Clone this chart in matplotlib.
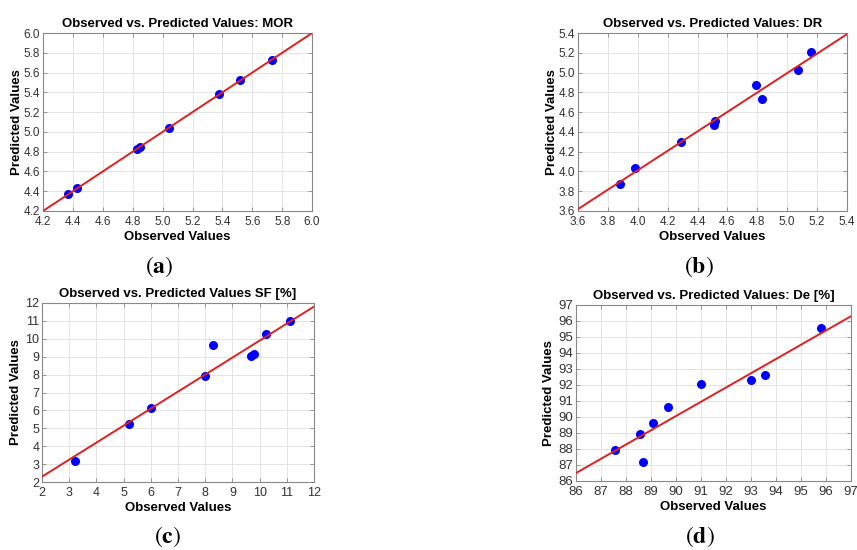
import matplotlib
matplotlib.use('Agg')
import matplotlib.pyplot as plt

plt.rcParams['font.family'] = ['Liberation Sans', 'DejaVu Sans']
plt.rcParams['mathtext.fontset'] = 'stix'

# observed / predicted values
mor_obs = [4.37, 4.43, 4.83, 4.85, 5.04, 5.38, 5.52, 5.73]
mor_pred = [4.37, 4.43, 4.83, 4.85, 5.04, 5.38, 5.52, 5.73]
mor_fit = (0.0, 1.0)

dr_obs = [3.88, 3.98, 4.29, 4.51, 4.52, 4.79, 4.83, 5.07, 5.16]
dr_pred = [3.87, 4.03, 4.30, 4.47, 4.51, 4.87, 4.73, 5.03, 5.21]
dr_fit = (0.08, 0.983)

sf_obs = [3.2, 5.2, 6.0, 8.0, 8.3, 9.7, 9.8, 10.25, 11.1]
sf_pred = [3.2, 5.25, 6.15, 7.95, 9.65, 9.05, 9.15, 10.25, 11.0]
sf_fit = (0.4, 0.95)

de_obs = [87.55, 88.55, 88.7, 89.1, 89.7, 91.0, 93.0, 93.55, 95.8]
de_pred = [87.95, 88.95, 87.2, 89.65, 90.6, 92.05, 92.3, 92.6, 95.55]
de_fit = (9.87, 0.891)

panels = [
    ('Observed vs. Predicted Values: MOR', mor_obs, mor_pred, mor_fit,
     (4.2, 6.0), [4.2 + 0.2 * i for i in range(10)], '%.1f', 'a', 8.5),
    ('Observed vs. Predicted Values: DR', dr_obs, dr_pred, dr_fit,
     (3.6, 5.4), [3.6 + 0.2 * i for i in range(10)], '%.1f', 'b', 8.5),
    ('Observed vs. Predicted Values SF [%]', sf_obs, sf_pred, sf_fit,
     (2, 12), list(range(2, 13)), '%d', 'c', 9),
    ('Observed vs. Predicted Values: De [%]', de_obs, de_pred, de_fit,
     (86, 97), list(range(86, 98)), '%d', 'd', 9.5),
]

positions = [
    [0.0502, 0.6164, 0.314, 0.3236],
    [0.6744, 0.6164, 0.3139, 0.3236],
    [0.049, 0.1236, 0.3174, 0.3255],
    [0.6721, 0.1255, 0.3209, 0.320],
]
# (x in axes fraction, y in figure pixels from top) for the panel letters
letter_pos = [(0.43, 267), (0.45, 267), (0.46, 537), (0.45, 537)]

fig = plt.figure(figsize=(8.57, 5.50), dpi=100)

for pos, lp, (title, obs, pred, fit, lim, ticks, fmt, letter, tsize) in zip(
        positions, letter_pos, panels):
    ax = fig.add_axes(pos)
    ax.scatter(obs, pred, s=30, color='#0000ff', zorder=3)
    b0, b1 = fit
    ax.plot(lim, [b0 + b1 * lim[0], b0 + b1 * lim[1]], color='#e02020',
            lw=1.4, zorder=4)
    ax.set_xlim(lim)
    ax.set_ylim(lim)
    ax.set_xticks(ticks)
    ax.set_yticks(ticks)
    ax.set_xticklabels([fmt % t for t in ticks])
    ax.set_yticklabels([fmt % t for t in ticks])
    ax.grid(True, color='#e4e4e4', lw=0.7)
    ax.set_axisbelow(True)
    ax.tick_params(direction='in', length=3, width=0.6, colors='#888888',
                   labelcolor='#333333', labelsize=tsize, pad=2,
                   top=True, right=True)
    ax.tick_params(axis='x', pad=3.5)
    for sp in ax.spines.values():
        sp.set_color('#888888')
        sp.set_linewidth(0.8)
    ax.set_title(title, fontsize=9.5, fontweight='bold', pad=4)
    ax.set_xlabel('Observed Values', fontsize=9.5, fontweight='bold', labelpad=2)
    ax.set_ylabel('Predicted Values', fontsize=9.5, fontweight='bold')
    ax.yaxis.set_label_coords(-0.075, 0.5)
    fig.text(pos[0] + lp[0] * pos[2], 1 - lp[1] / 550.0,
             r'$(\mathbf{%s})$' % letter, ha='center', va='center', fontsize=17)

fig.savefig('out.png', dpi=100)
